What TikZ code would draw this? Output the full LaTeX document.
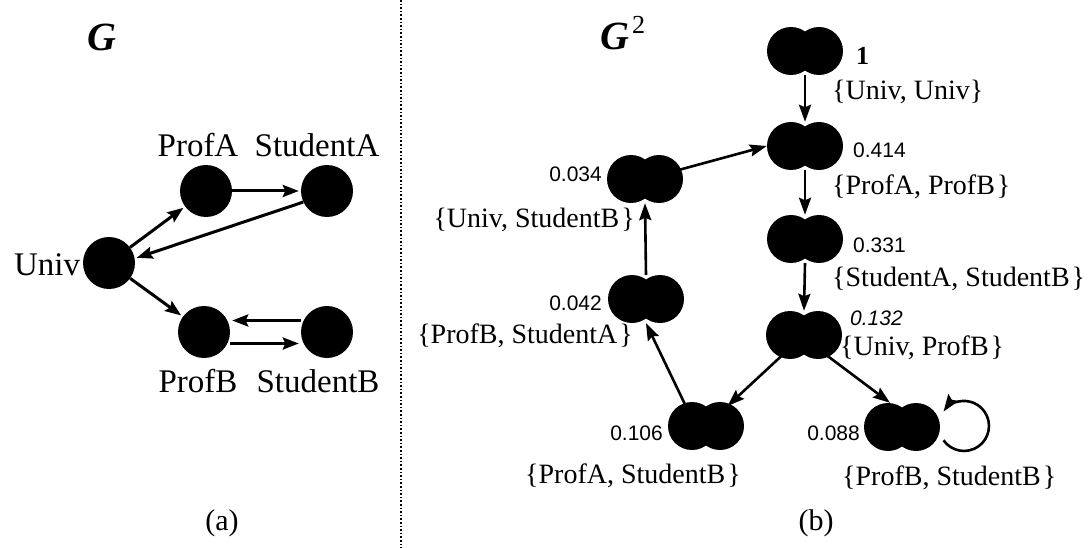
\documentclass[tikz,border=0pt]{standalone}
\usepackage{fontspec}
\setmainfont{Liberation Serif}
\newfontfamily\numfont{Liberation Sans}
\usetikzlibrary{arrows.meta,shapes.geometric}

% a state of G^2: two overlapping discs, with an invisible ellipse for anchors
\newcommand\pairblob[2]{%
  \node[pairnode] (#1) at (#2) {};
  \fill ([xshift=-14pt]#1.center) circle (24pt) ([xshift=14pt]#1.center) circle (24pt);
}

\begin{document}
\begin{tikzpicture}[x=1pt,y=1pt,
  vert/.style={circle, fill=black, minimum size=52pt, inner sep=0pt},
  pairnode/.style={ellipse, minimum width=76pt, minimum height=48pt, inner sep=0pt},
  lab/.style={font=\fontsize{33}{36}\selectfont, inner sep=0pt, anchor=base},
  plab/.style={font=\fontsize{28}{30}\selectfont, inner sep=0pt},
  num/.style={font=\numfont\fontsize{21}{24}\selectfont, inner sep=0pt},
  title/.style={font=\fontsize{40}{40}\selectfont\bfseries\itshape, inner sep=0pt},
  caption/.style={font=\fontsize{30}{30}\selectfont, inner sep=0pt, anchor=base},
  edgeA/.style={line width=3pt, -{Stealth[length=16pt,width=12pt,inset=2.5pt]}, shorten >=2pt},
  edgeB/.style={line width=2.6pt, -{Stealth[length=17pt,width=12pt,inset=2.5pt]}},
]
\useasboundingbox (0,0) rectangle (1092,-548);

% divider between the two panels
\draw[line width=2.2pt, dash pattern=on 1.6pt off 2pt] (401,0) -- (401,-548);

% ---------------- panel (a): the graph G ----------------
\node[title, anchor=base] (gtitle) at (102,-51) {G};

\node[vert] (univ) at (109,-263) {};
\node[vert] (pa)   at (206,-191) {};
\node[vert] (sa)   at (327,-191) {};
\node[vert] (pb)   at (204,-332) {};
\node[vert] (sb)   at (327,-332) {};

\node[lab] (lpa)   at (198,-157) {ProfA};
\node[lab] (lsa)   at (317,-157) {StudentA};
\node[lab] (luniv) at (47,-275)  {Univ};
\node[lab] (lpb)   at (198,-392) {ProfB};
\node[lab] (lsb)   at (318,-392) {StudentB};

\draw[edgeA] (univ) -- (pa);
\draw[edgeA] (pa) -- (sa);
\draw[edgeA] (sa.205) -- (univ.10);
\draw[edgeA] (univ) -- (pb);
\draw[edgeA] ([yshift=11.5pt]sb.west) -- ([yshift=11.5pt]pb.east);
\draw[edgeA] ([yshift=-11.5pt]pb.east) -- ([yshift=-11.5pt]sb.west);

\node[caption] (capa) at (222,-530) {(a)};

% ---------------- panel (b): the graph G^2 ----------------
\node[title, anchor=base west] (g2title) at (600,-50)
  {G\kern3pt\raisebox{16pt}{\fontsize{26}{26}\selectfont\mdseries\upshape 2}};

\pairblob{n1}{805,-51}
\pairblob{n2}{805,-146}
\pairblob{n3}{805,-239}
\pairblob{n4}{804,-335}
\pairblob{n5}{902,-427}
\pairblob{n6}{706,-426}
\pairblob{n7}{646,-299}
\pairblob{n8}{645,-179}

\draw[edgeB] (n1.south) -- (n2.north);
\draw[edgeB] (n2.south) -- (n3.north);
\draw[edgeB] (n3.south) -- (n4.north);
\draw[edgeB] (n4) -- (n6);
\draw[edgeB] (n4.-42) -- ([xshift=-12pt]n5.north);
\draw[edgeB] (n6.135) -- (n7.south);
\draw[edgeB] (n7.north) -- (n8.south);
\draw[edgeB] (n8.15) -- (n2.west);
\draw[edgeB] ([shift={(41.5,-13.3)}]n5.center) arc[start angle=215, end angle=505, radius=25pt];

% scores
\node[inner sep=0pt, anchor=base west, font=\fontsize{26}{28}\selectfont\bfseries] (s1) at (856,-65) {1};
\node[num, anchor=base west] (s2) at (853,-158) {0.414};
\node[num, anchor=base west] (s3) at (853,-252) {0.331};
\node[num, anchor=base west, font=\numfont\itshape\fontsize{21}{24}\selectfont] (s4) at (850,-325) {0.132};
\node[num, anchor=base east] (s5) at (860,-440) {0.088};
\node[num, anchor=base east] (s6) at (663,-440) {0.106};
\node[num, anchor=base east] (s7) at (602,-310) {0.042};
\node[num, anchor=base east] (s8) at (602,-182) {0.034};

% vertex pairs
\node[plab, anchor=base west] (p1) at (832,-100) {\{Univ, Univ\}};
\node[plab, anchor=base west] (p2) at (832,-195) {\{ProfA, ProfB\kern2pt\}};
\node[plab, anchor=base west] (p3) at (832,-286) {\{StudentA, StudentB\kern2pt\}};
\node[plab, anchor=base west] (p4) at (840,-355) {\{Univ, ProfB\kern2pt\}};
\node[plab, anchor=base west] (p5) at (842,-485) {\{ProfB, StudentB\kern2pt\}};
\node[plab, anchor=base west] (p6) at (525,-483) {\{ProfA, StudentB\kern2pt\}};
\node[plab, anchor=base east] (p7) at (633,-343) {\{ProfB, StudentA\kern2pt\}};
\node[plab, anchor=base east] (p8) at (635,-227) {\{Univ, StudentB\kern2pt\}};

\node[caption] (capb) at (816,-530) {(b)};
\end{tikzpicture}
\end{document}
